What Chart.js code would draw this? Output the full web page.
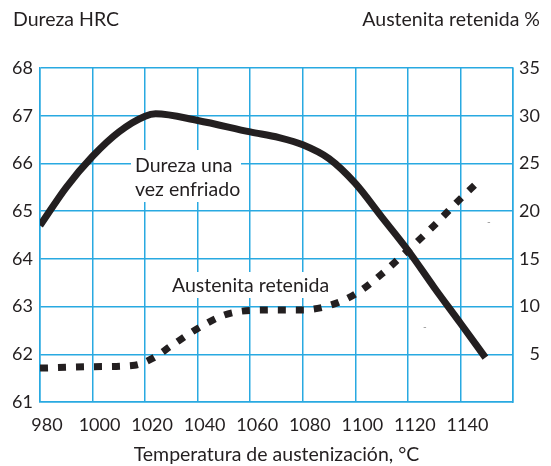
<!DOCTYPE html>
<html>
<head>
<meta charset="utf-8">
<script src="https://cdn.jsdelivr.net/npm/chart.js@4/dist/chart.umd.min.js"></script>
<style>
  body { margin: 0; background: #fff; }
  #wrap { width: 551px; height: 466px; }
</style>
</head>
<body>
<div id="wrap"><canvas id="durezaChart" width="551" height="466"></canvas></div>
<script>
// Temperatura de austenización (°C) y dureza HRC
const tempDureza = [980, 990, 1000, 1010, 1020, 1024, 1040, 1060, 1071, 1080, 1090, 1100, 1110, 1120, 1130, 1140, 1149.5];
const dureza = [64.7, 65.5, 66.15, 66.66, 66.99, 67.04, 66.9, 66.66, 66.54, 66.39, 66.1, 65.58, 64.88, 64.18, 63.4, 62.65, 61.93];

// Austenita retenida (%)
const tempAustenita = [980, 1000, 1016, 1023, 1030, 1040, 1050, 1060, 1070, 1080, 1090, 1100, 1110, 1120, 1130, 1140, 1148];
const austenita = [3.55, 3.7, 3.85, 4.6, 5.9, 7.7, 9.1, 9.6, 9.65, 9.65, 10.1, 11.3, 13.4, 15.9, 18.5, 21.3, 23.4];

const ticksTemp = [980, 1000, 1020, 1040, 1060, 1080, 1100, 1120, 1140, 1160];

const azul = '#29a9e1';
const tinta = '#231f20';
const fuente = 'Lato, "Open Sans", sans-serif';

// textos fijos: titulos de los ejes y rotulos de las curvas
const textosPlugin = {
  id: 'textos',
  beforeDatasetsDraw(chart) {
    const ctx = chart.ctx;
    ctx.save();
    ctx.fillStyle = '#fff';
    ctx.fillRect(131, 150, 110, 52);
    ctx.fillRect(167, 272, 166, 26);
    ctx.fillStyle = tinta;
    ctx.font = '19.5px ' + fuente;
    ctx.textBaseline = 'alphabetic';
    ctx.textAlign = 'left';
    ctx.fillText('Dureza una', 135, 172);
    ctx.fillText('vez enfriado', 135, 196);
    ctx.fillText('Austenita retenida', 172, 292);
    ctx.fillStyle = '#888';
    ctx.font = '10px ' + fuente;
    ctx.fillText('-', 487, 225);
    ctx.fillText('-', 423, 330);
    ctx.restore();
  },
  afterDraw(chart) {
    const ctx = chart.ctx;
    ctx.save();
    ctx.fillStyle = tinta;
    ctx.font = '19.5px ' + fuente;
    ctx.textBaseline = 'alphabetic';
    ctx.textAlign = 'left';
    ctx.fillText('Dureza HRC', 13, 26);
    ctx.textAlign = 'right';
    ctx.fillText('Austenita retenida %', 540, 26);
    ctx.restore();
  }
};

const ctx = document.getElementById('durezaChart').getContext('2d');
new Chart(ctx, {
  type: 'line',
  data: {
    datasets: [{
      label: 'Dureza una vez enfriado',
      data: tempDureza.map((t, i) => ({ x: t, y: dureza[i] })),
      yAxisID: 'y',
      borderColor: tinta,
      borderWidth: 7,
      borderCapStyle: 'butt',
      cubicInterpolationMode: 'monotone',
      pointRadius: 0,
      fill: false
    },
    {
      label: 'Austenita retenida',
      data: tempAustenita.map((t, i) => ({ x: t, y: austenita[i] })),
      yAxisID: 'y2',
      borderColor: tinta,
      borderWidth: 7,
      borderDash: [8, 10],
      borderCapStyle: 'butt',
      cubicInterpolationMode: 'monotone',
      pointRadius: 0,
      fill: false
    }]
  },
  options: {
    responsive: false,
    animation: false,
    layout: { padding: { top: 68, left: 0, right: 11, bottom: 0 } },
    plugins: {
      legend: { display: false },
      tooltip: { enabled: false }
    },
    scales: {
      x: {
        type: 'linear',
        min: 980,
        max: 1160,
        afterBuildTicks: (scale) => { scale.ticks = ticksTemp.map(v => ({ value: v })); },
        afterFit: (scale) => { scale.height = 64; },
        grid: { color: azul, lineWidth: 1.5, drawTicks: false },
        border: { color: azul, width: 1.5 },
        ticks: {
          color: tinta,
          font: { family: fuente, size: 18 },
          padding: 12,
          labelOffset: 7,
          maxRotation: 0,
          autoSkip: false,
          callback: (v) => v === 1160 ? '' : v
        },
        title: {
          display: true,
          text: 'Temperatura de austenización, °C',
          color: tinta,
          font: { family: fuente, size: 19.5 },
          padding: { top: 0, bottom: 0 }
        }
      },
      y: {
        position: 'left',
        min: 61,
        max: 68,
        afterFit: (scale) => { scale.width = 40; },
        grid: { color: azul, lineWidth: 1.5, drawTicks: false },
        border: { color: azul, width: 1.5 },
        ticks: {
          stepSize: 1,
          color: tinta,
          font: { family: fuente, size: 18 },
          padding: 7
        }
      },
      y2: {
        position: 'right',
        min: 0,
        max: 35,
        afterFit: (scale) => { scale.width = 27; },
        grid: { display: false, drawTicks: false },
        border: { color: azul, width: 1.5 },
        ticks: {
          stepSize: 5,
          color: tinta,
          font: { family: fuente, size: 18 },
          crossAlign: 'far',
          padding: 0,
          callback: (v) => v === 0 ? '' : v
        }
      }
    }
  },
  plugins: [textosPlugin]
});
</script>
</body>
</html>
